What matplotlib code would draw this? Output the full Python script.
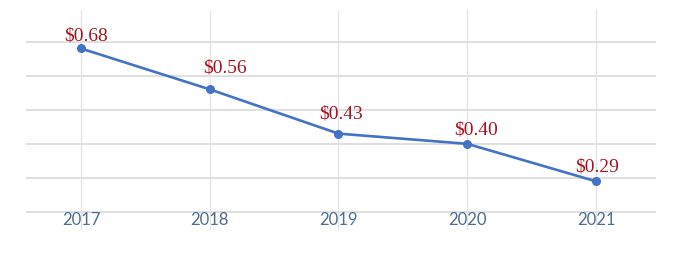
import matplotlib.pyplot as plt

years = [2017, 2018, 2019, 2020, 2021]
values = [0.68, 0.56, 0.43, 0.40, 0.29]
labels = ["$0.68", "$0.56", "$0.43", "$0.40", "$0.29"]
# label offsets in points (x, y) from each marker, to the text baseline
offsets = [(4, 6), (11, 12), (1.5, 11), (6.5, 7), (1, 7)]
grid_levels = [0.2, 0.3, 0.4, 0.5, 0.6, 0.7]

fig = plt.figure(figsize=(6.79, 2.73), dpi=100)
ax = fig.add_axes([0.0383, 0.1575, 0.9278, 0.8059])
ax.set_xlim(2016.573, 2021.466)
ax.set_ylim(0.147, 0.793)

for g in grid_levels:
    ax.axhline(g, color="#d9d9d9", lw=1.2, zorder=1)
for y in years:
    ax.axvline(y, color="#e3e3e3", lw=0.9, zorder=1)

ax.plot(years, values, color="#4472c4", lw=1.9, marker="o", ms=5.5, zorder=3)

for x, v, t, off in zip(years, values, labels, offsets):
    ax.annotate(t.replace("$", r"\$"), (x, v), xytext=off, textcoords="offset points",
                ha="center", va="baseline", color="#a31420", fontsize=14,
                family="Liberation Serif", zorder=4)
    ax.text(x, 0.175, str(x), ha="center", va="center", color="#4f6d8f",
            fontsize=12, family="Lato", zorder=4)

ax.set_xticks([])
ax.set_yticks([])
for s in ax.spines.values():
    s.set_visible(False)

fig.savefig("out.png", dpi=100)
